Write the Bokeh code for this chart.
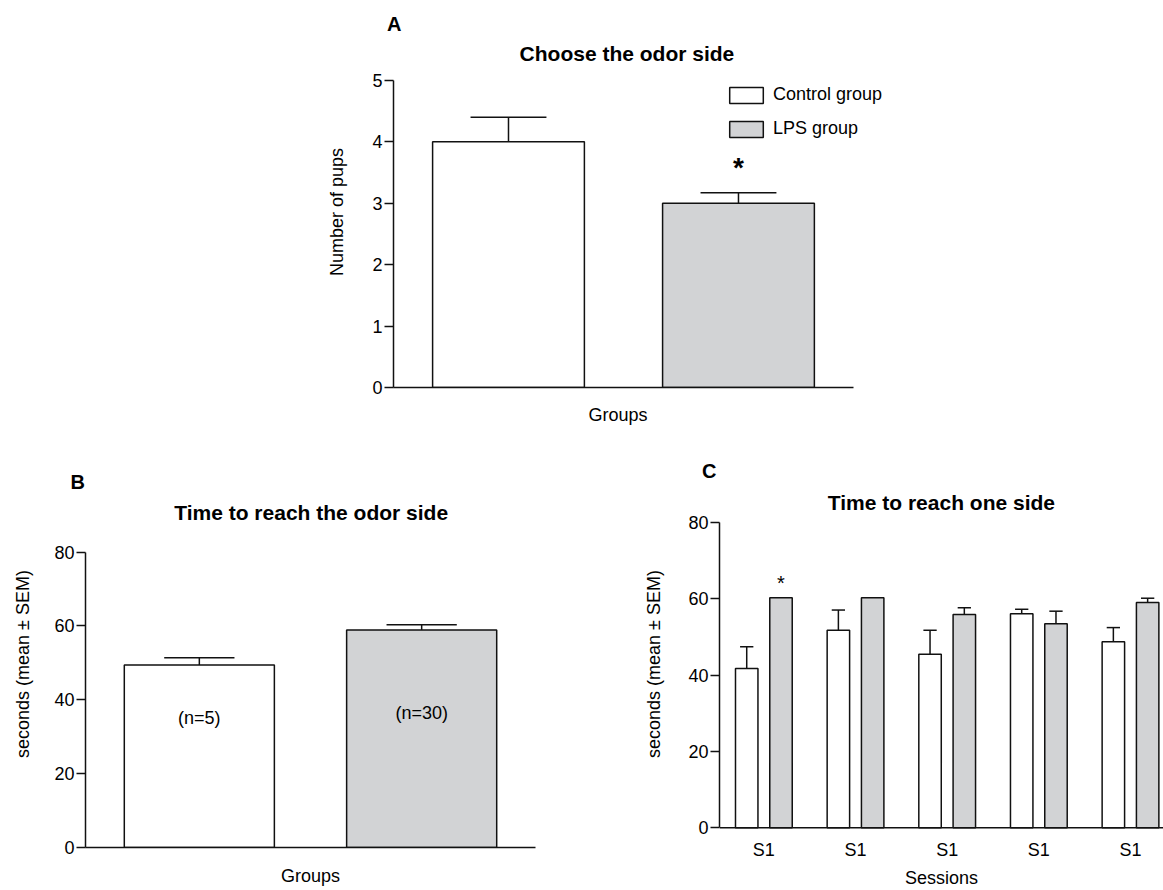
from bokeh.plotting import figure
from bokeh.models import Label, Legend, LegendItem, FixedTicker, Range1d, Title, Span
from bokeh.layouts import column, row
from bokeh.embed import file_html
from bokeh.resources import INLINE

FONT = "Liberation Sans"
GRAY = "#d2d3d5"
INK = "#111111"

# ---------------- data ----------------
# Panel A: Choose the odor side
groups_a = ["Control group", "LPS group"]
pups_mean = [4.0, 3.0]
pups_sem = [0.40, 0.17]

# Panel B: Time to reach the odor side
reach_mean = [49.4, 58.9]
reach_sem = [2.0, 1.4]
n_labels = ["(n=5)", "(n=30)"]
n_label_y = [35.1, 36.4]

# Panel C: Time to reach one side
sessions = ["S1", "S1", "S1", "S1", "S1"]
ctrl_mean = [41.8, 51.8, 45.5, 56.1, 48.8]
ctrl_sem = [5.7, 5.3, 6.3, 1.2, 3.7]
lps_mean = [60.3, 60.3, 55.9, 53.5, 59.1]
lps_sem = [0.0, 0.0, 1.8, 3.3, 1.1]


def style(p):
    p.xgrid.visible = False
    p.ygrid.visible = False
    p.outline_line_color = None
    p.background_fill_color = "white"
    p.border_fill_color = "white"
    for ax in p.axis:
        ax.axis_line_color = INK
        ax.axis_line_width = 1.5
        ax.major_tick_line_color = INK
        ax.major_tick_line_width = 1.5
        ax.minor_tick_line_color = None
        ax.major_label_text_font = FONT
        ax.major_label_text_font_size = "18px"
        ax.major_label_text_color = "black"
        ax.axis_label_text_font = FONT
        ax.axis_label_text_font_size = "18px"
        ax.axis_label_text_font_style = "normal"
        ax.axis_label_text_color = "black"
    for ax in p.yaxis:
        ax.major_tick_out = 9
        ax.major_tick_in = 0
        ax.major_label_standoff = 2
    for ax in p.xaxis:
        ax.major_tick_out = 0
        ax.major_tick_in = 0


def errorbars(p, xs, means, sems, half_cap):
    tops = [m + s for m, s in zip(means, sems)]
    p.segment(x0=xs, y0=means, x1=xs, y1=tops, line_color=INK, line_width=1.5)
    p.segment(x0=[x - half_cap for x in xs], y0=tops,
              x1=[x + half_cap for x in xs], y1=tops,
              line_color=INK, line_width=1.5)


def text(p, x, y, t, size, bold=False, align="center", baseline="middle"):
    p.add_layout(Label(x=x, y=y, text=t, text_font=FONT, text_font_size=size,
                       text_font_style="bold" if bold else "normal",
                       text_align=align, text_baseline=baseline,
                       text_color="black"))


def letter(p, t, offset, standoff):
    p.add_layout(Title(text=t, align="left", offset=offset, standoff=standoff,
                       text_font=FONT, text_font_size="20px",
                       text_font_style="bold", text_color="black"), "above")


# ---------------- Panel A ----------------
xa = [1, 2]
pA = figure(width=950, height=444, x_range=Range1d(0.5, 2.661), y_range=Range1d(0, 5.716),
            output_backend="svg", toolbar_location=None,
            min_border_left=393, min_border_right=60,
            min_border_top=36, min_border_bottom=57)
errorbars(pA, xa, pups_mean, pups_sem, 0.165)
r_ctrl = pA.vbar(x=[xa[0]], top=[pups_mean[0]], width=0.66, fill_color="white",
                 line_color=INK, line_width=1.5)
r_lps = pA.vbar(x=[xa[1]], top=[pups_mean[1]], width=0.66, fill_color=GRAY,
                line_color=INK, line_width=1.5)
style(pA)
pA.yaxis.ticker = FixedTicker(ticks=[0, 1, 2, 3, 4, 5])
pA.yaxis.bounds = (0, 5)
pA.yaxis.axis_label = "Number of pups"
pA.yaxis.axis_label_standoff = 22
pA.xaxis.ticker = FixedTicker(ticks=[])
pA.xaxis.bounds = (0.5, 2.5)
pA.xaxis.major_label_standoff = 0
pA.add_layout(Title(text="Groups", align="left", offset=195, standoff=31,
                    text_font=FONT, text_font_size="18px",
                    text_font_style="normal", text_color="black"), "below")

legend = Legend(items=[LegendItem(label=groups_a[0], renderers=[r_ctrl]),
                       LegendItem(label=groups_a[1], renderers=[r_lps])],
                location=(332, 248), glyph_width=42, glyph_height=20,
                label_height=21, spacing=13, padding=0, margin=0,
                border_line_color=None, background_fill_alpha=0,
                label_standoff=6, label_text_font=FONT,
                label_text_font_size="18px", label_text_color="black")
pA.add_layout(legend)

text(pA, 1.515, 5.44, "Choose the odor side", "21px", bold=True)
text(pA, xa[1], 3.58, "*", "28px", bold=True, baseline="alphabetic")
letter(pA, "A", -6.5, 3)

# ---------------- Panel B ----------------
pB = figure(width=620, height=446, x_range=Range1d(0.488, 2.512), y_range=Range1d(0, 99.36),
            output_backend="svg", toolbar_location=None,
            min_border_left=85, min_border_right=85,
            min_border_top=36, min_border_bottom=42)
errorbars(pB, xa, reach_mean, reach_sem, 0.158)
pB.vbar(x=[xa[0]], top=[reach_mean[0]], width=0.675, fill_color="white",
        line_color=INK, line_width=1.5)
pB.vbar(x=[xa[1]], top=[reach_mean[1]], width=0.675, fill_color=GRAY,
        line_color=INK, line_width=1.5)
style(pB)
pB.yaxis.ticker = FixedTicker(ticks=[0, 20, 40, 60, 80])
pB.yaxis.bounds = (0, 80)
pB.yaxis.axis_label = "seconds (mean \u00b1 SEM)"
pB.yaxis.axis_label_standoff = 18
pB.xaxis.ticker = FixedTicker(ticks=[])
pB.xaxis.major_label_standoff = 0
pB.xaxis.axis_label = "Groups"
pB.xaxis.axis_label_standoff = 18
for x, y, t in zip(xa, n_label_y, n_labels):
    text(pB, x, y, t, "18px")
text(pB, 1.503, 90.8, "Time to reach the odor side", "21px", bold=True)
letter(pB, "B", -15, -25)

# ---------------- Panel C ----------------
xs_c = list(range(len(sessions)))
x_ctrl = [i - 0.187 for i in xs_c]
x_lps = [i + 0.187 for i in xs_c]
pC = figure(width=543, height=446, x_range=Range1d(-0.484, 4.36), y_range=Range1d(-5.15, 91.06),
            output_backend="svg", toolbar_location=None,
            min_border_left=99, min_border_right=0,
            min_border_top=36, min_border_bottom=42)
errorbars(pC, x_ctrl, ctrl_mean, ctrl_sem, 0.0725)
errorbars(pC, x_lps, lps_mean, lps_sem, 0.0725)
pC.vbar(x=x_ctrl, top=ctrl_mean, width=0.245, fill_color="white",
        line_color=INK, line_width=1.5)
pC.vbar(x=x_lps, top=lps_mean, width=0.245, fill_color=GRAY,
        line_color=INK, line_width=1.5)
pC.add_layout(Span(location=0, dimension="width", line_color=INK, line_width=1.5))
style(pC)
pC.yaxis.ticker = FixedTicker(ticks=[0, 20, 40, 60, 80])
pC.yaxis.bounds = (0, 80)
pC.yaxis.axis_label = "seconds (mean \u00b1 SEM)"
pC.yaxis.axis_label_standoff = 21
pC.xaxis.ticker = FixedTicker(ticks=xs_c)
pC.xaxis.major_label_overrides = {i: s for i, s in zip(xs_c, sessions)}
pC.xaxis.major_tick_line_color = None
pC.xaxis.axis_line_color = None
pC.xaxis.major_label_standoff = -8
pC.xaxis.axis_label = "Sessions"
pC.xaxis.axis_label_standoff = 5
text(pC, 1.937, 85.4, "Time to reach one side", "21px", bold=True)
text(pC, x_lps[0], 64.1, "*", "20px", baseline="alphabetic")
letter(pC, "C", -17.5, -3)

layout = column(pA, row(pB, pC))
open("out.html", "w").write(file_html(layout, INLINE))
